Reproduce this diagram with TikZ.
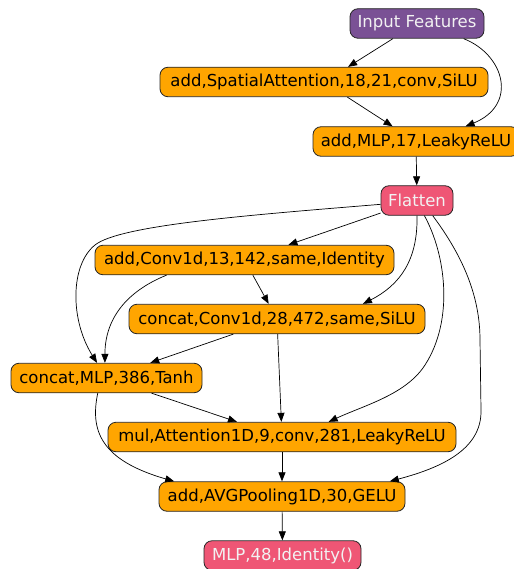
\documentclass[tikz,border=0pt]{standalone}
\usepackage{fontspec}
\setmainfont{DejaVu Sans}
\usetikzlibrary{arrows.meta}
\definecolor{cpurple}{HTML}{7A5195}
\definecolor{cpink}{HTML}{EF5675}
\definecolor{corange}{HTML}{FFA500}
\definecolor{clight}{HTML}{F2F2F2}

\begin{document}
\begin{tikzpicture}[
    x=1pt, y=-1pt,
    box/.style={draw=black!85, line width=0.8pt, rounded corners=8pt, font=\fontsize{16.5}{19}\selectfont, minimum height=29.5pt, inner xsep=3pt, inner ysep=0pt},
    layer/.style={box, fill=corange, text=black, minimum width=#1},
    io/.style={box, fill=#1, text=clight},
    edge/.style={-{Triangle[length=9pt, width=7pt]}, line width=0.7pt},
]
\useasboundingbox (0,0) rectangle (513,569);

\node[io=cpurple, minimum width=134pt] (in) at (417,23.5) {Input Features};
\node[layer=328pt] (sa) at (324,82) {add,SpatialAttention,18,21,conv,SiLU};
\node[layer=206pt] (mlp17) at (416,141.5) {add,MLP,17,LeakyReLU};
\node[io=cpink, minimum width=72pt] (flat) at (417,200.5) {Flatten};
\node[layer=299pt] (c13) at (244.5,260) {add,Conv1d,13,142,same,Identity};
\node[layer=296pt] (c28) at (277,319) {concat,Conv1d,28,472,same,SiLU};
\node[layer=191pt] (mlp386) at (106.5,378) {concat,MLP,386,Tanh};
\node[layer=348pt] (att) at (282,437) {mul,Attention1D,9,conv,281,LeakyReLU};
\node[layer=246pt] (avg) at (282,496.5) {add,AVGPooling1D,30,GELU};
\node[io=cpink, minimum width=157pt] (out) at (282.5,555.5) {MLP,48,Identity()};

\draw[edge] (in) -- (sa);
\draw[edge] (in.-18) .. controls (505,55) and (518,105) .. (mlp17.17);
\draw[edge] (sa) -- (mlp17);
\draw[edge] (mlp17) -- (flat);
\draw[edge] (flat.186) .. controls (250,215) and (120,225) .. (95,245)
    .. controls (70,265) and (70,320) .. (mlp386.122);
\draw[edge] (flat) -- (c13);
\draw[edge] (flat.south) .. controls (418,260) and (400,285) .. (c28.10);
\draw[edge] (flat.-64) .. controls (446,255) and (454,320) .. (425,365)
    .. controls (406,394.5) and (365,405) .. (att.18);
\draw[edge] (flat.-44) .. controls (462,255) and (480,295) .. (480,340)
    -- (481,410) .. controls (482,450) and (440,468) .. (avg.8);
\draw[edge] (c13.191) .. controls (125,292) and (105,320) .. (mlp386.96);
\draw[edge] (c13) -- (c28);
\draw[edge] (c28) -- (mlp386);
\draw[edge] (c28) -- (att);
\draw[edge] (mlp386) -- (att);
\draw[edge] (mlp386.-120) .. controls (90,430) and (100,460) .. (avg.172);
\draw[edge] (att) -- (avg);
\draw[edge] (avg) -- (out);

\end{tikzpicture}
\end{document}
